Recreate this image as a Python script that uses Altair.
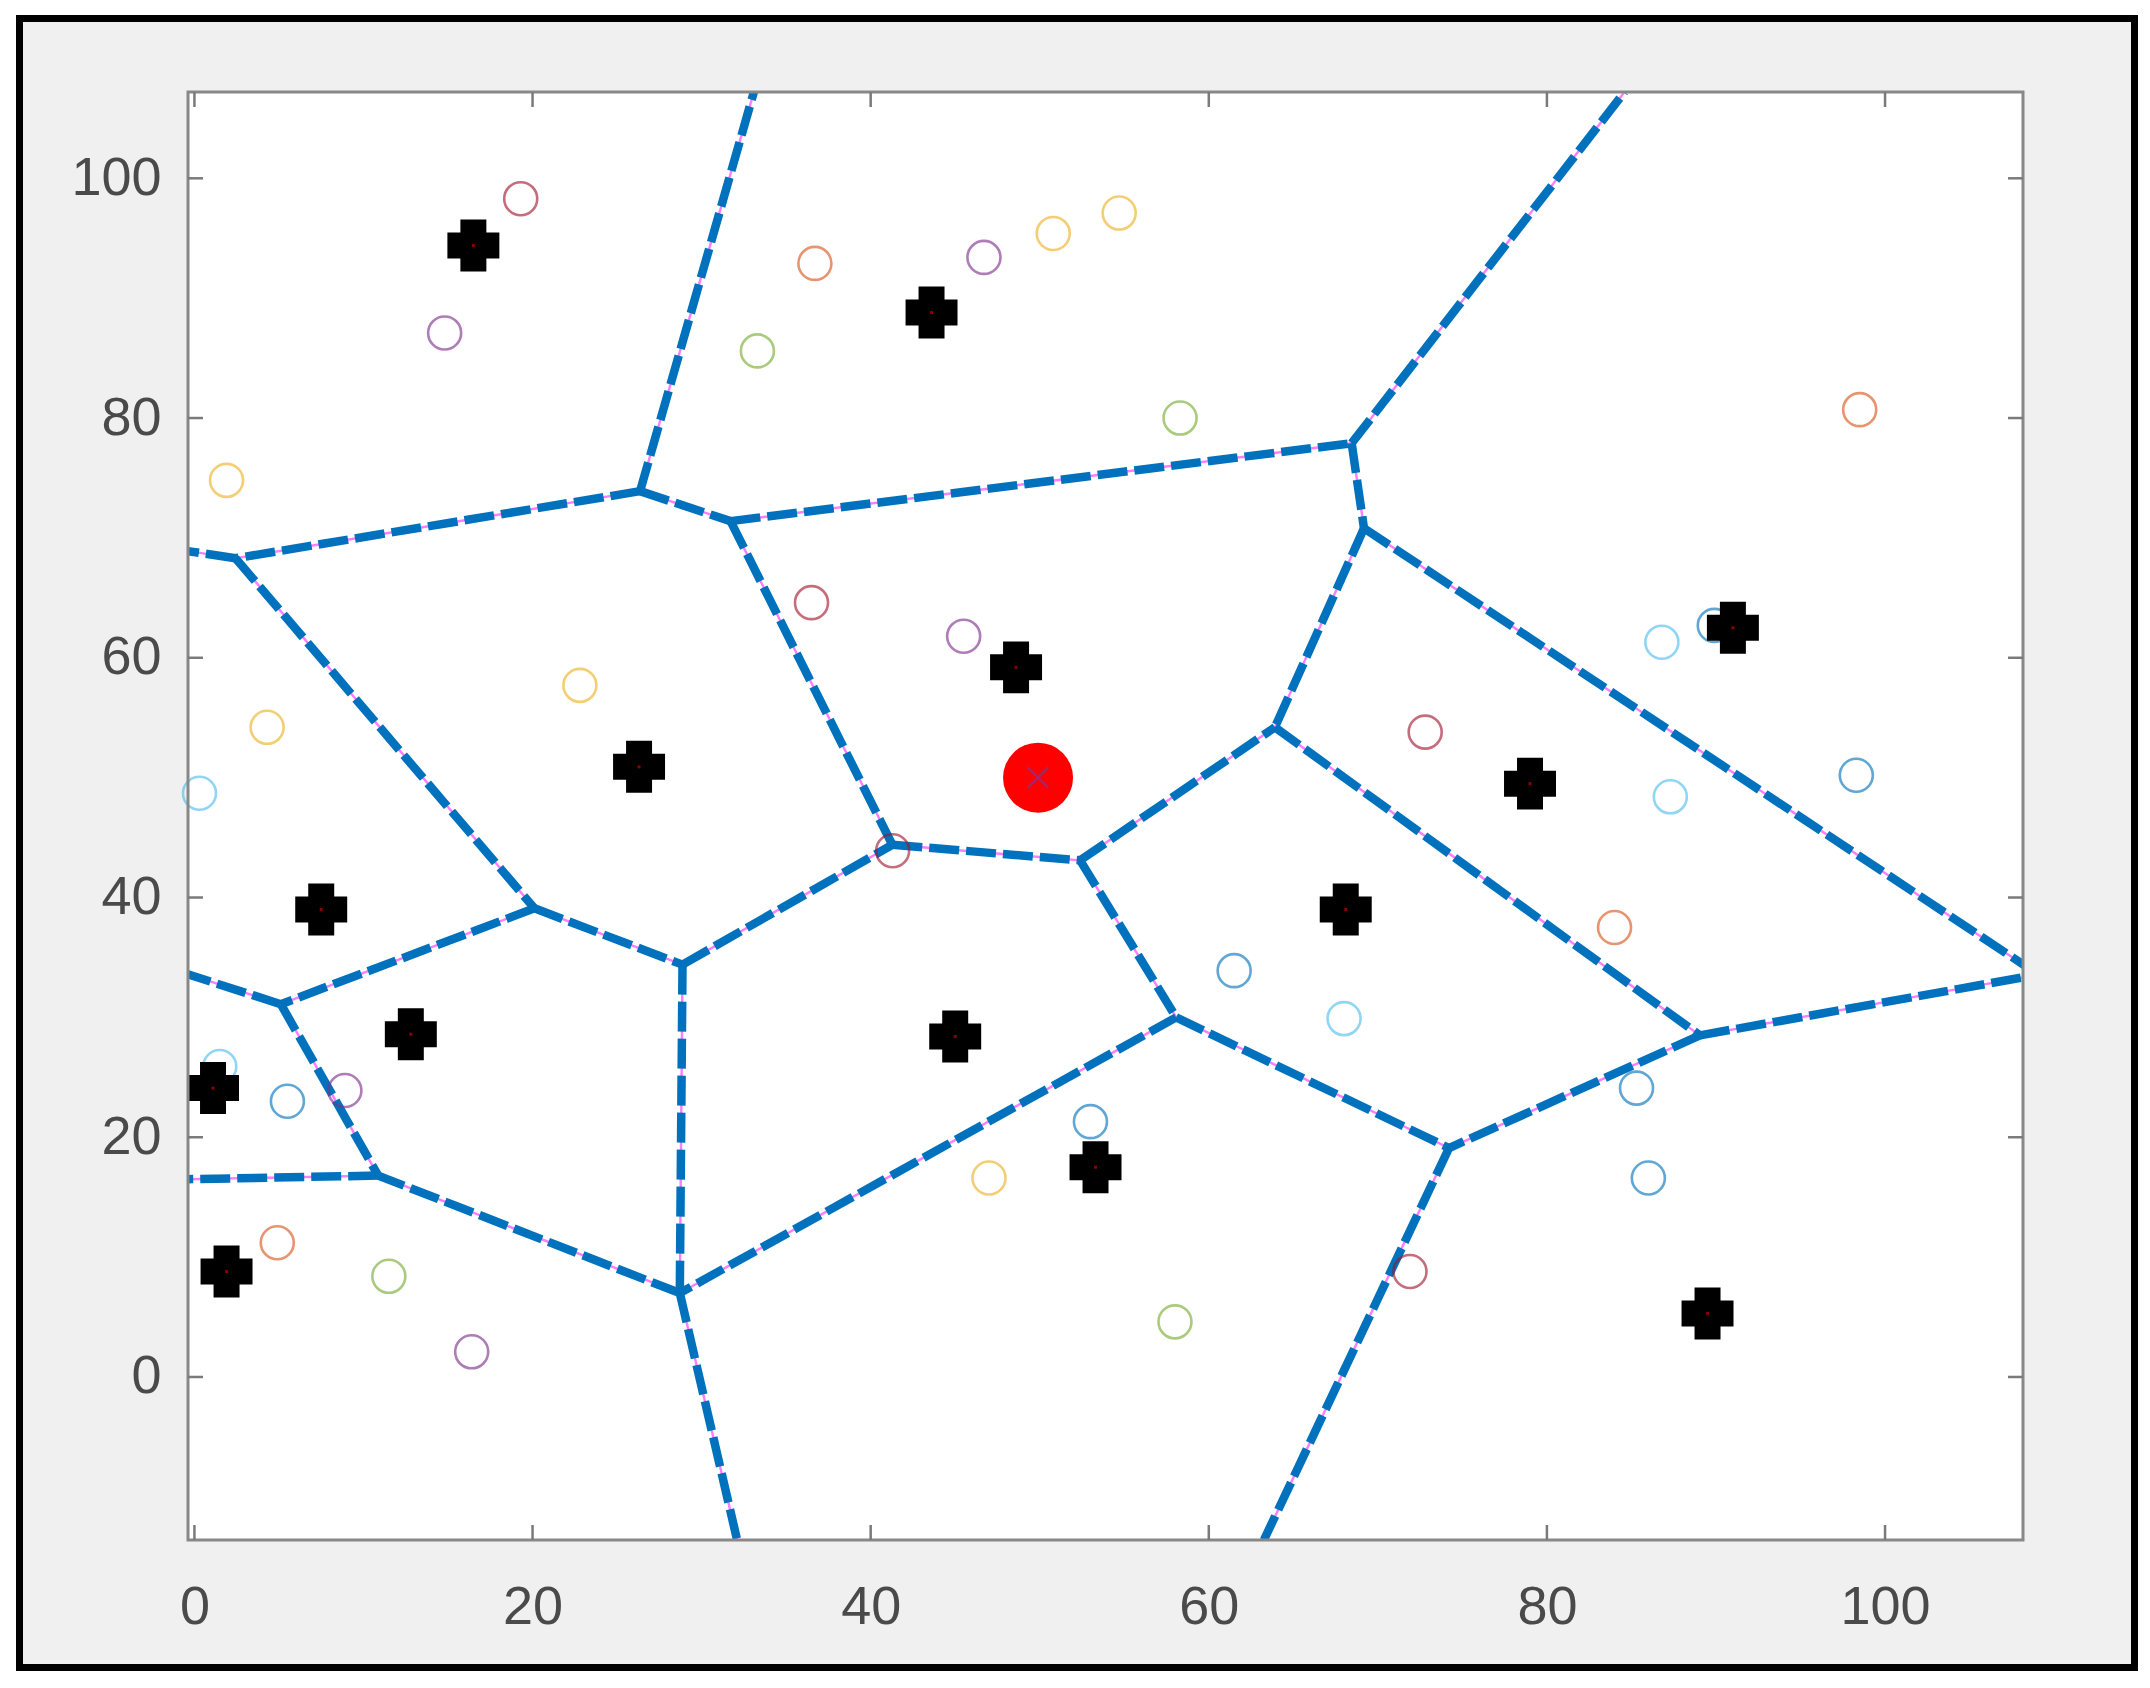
import altair as alt
import pandas as pd

# ---------------- data ----------------
X_DOMAIN = [-0.38, 108.16]
Y_DOMAIN = [-13.6, 107.2]
tick_vals = [0, 20, 40, 60, 80, 100]

# generator sites (black markers)
gen_x = [16.5, 43.6, 48.6, 26.3, 91.0, 79.0, 7.5, 68.1, 12.8, 45.0, 1.1, 53.3, 1.9, 89.5]
gen_y = [94.4, 88.8, 59.2, 50.9, 62.5, 49.5, 39.0, 39.0, 28.6, 28.4, 24.1, 17.5, 8.8, 5.3]

# query point (red)
query_x = [49.9]
query_y = [50.0]

# hollow coloured circles
circ_x = [19.3, 36.7, 46.7, 50.8, 54.7, 14.8, 33.3, 58.3, 98.5, 1.9,
          36.5, 45.5, 86.8, 89.9, 22.8, 4.3, 72.8, 0.3, 87.3, 98.3,
          41.3, 84.0, 61.5, 68.0, 1.5, 8.9, 5.5, 85.3, 53.0, 47.0,
          86.0, 4.9, 11.5, 71.9, 58.0, 16.4]
circ_y = [98.3, 92.9, 93.4, 95.4, 97.1, 87.1, 85.6, 80.0, 80.7, 74.8,
          64.6, 61.8, 61.3, 62.7, 57.7, 54.2, 53.8, 48.7, 48.4, 50.2,
          43.9, 37.5, 33.9, 29.9, 25.9, 23.9, 23.0, 24.1, 21.3, 16.6,
          16.6, 11.2, 8.4, 8.8, 4.6, 2.1]
circ_c = ["#A2142F", "#D95319", "#7E2F8E", "#EDB120", "#EDB120", "#7E2F8E", "#77AC30", "#77AC30", "#D95319", "#EDB120",
          "#A2142F", "#7E2F8E", "#4DBEEE", "#0072BD", "#EDB120", "#EDB120", "#A2142F", "#4DBEEE", "#4DBEEE", "#0072BD",
          "#A2142F", "#D95319", "#0072BD", "#4DBEEE", "#4DBEEE", "#7E2F8E", "#0072BD", "#0072BD", "#0072BD", "#EDB120",
          "#0072BD", "#D95319", "#77AC30", "#A2142F", "#77AC30", "#7E2F8E"]

# Voronoi edges (start / end)
seg_x1 = [26.36, 26.36, 26.36, 31.71, 31.71, 68.45, 68.45, 69.18, 69.18, 2.43,
          2.43, 20.11, 20.11, 28.87, 28.87, 41.28, 52.39, 52.39, 63.91, 58.07,
          58.07, 89.05, 89.05, 74.21, 28.71, 28.71, 5.11, 5.11, 10.87]
seg_y1 = [73.9, 73.9, 73.9, 71.4, 71.4, 77.9, 77.9, 70.8, 70.8, 68.3,
          68.3, 39.1, 39.1, 34.4, 34.4, 44.4, 43.1, 43.1, 54.2, 30.0,
          30.0, 28.5, 28.5, 19.1, 7.0, 7.0, 31.1, 31.1, 16.8]
seg_x2 = [33.09, 31.71, 2.43, 68.45, 41.28, 84.59, 69.18, 63.91, 108.4, -0.4,
          20.11, 5.11, 28.87, 41.28, 28.71, 52.39, 63.91, 58.07, 89.05, 28.71,
          74.21, 74.21, 108.4, 63.26, 10.87, 32.1, -0.4, 10.87, -0.4]
seg_y2 = [107.2, 71.4, 68.3, 77.9, 44.4, 107.2, 70.8, 54.2, 34.2, 68.9,
          39.1, 31.1, 34.4, 44.4, 7.0, 43.1, 54.2, 30.0, 28.5, 7.0,
          19.1, 19.1, 33.4, -13.6, 16.8, -13.6, 33.6, 16.8, 16.5]

# ---------------- layout (pixels) ----------------
W, H = 1835, 1448
PAD = {"left": 180, "top": 84, "right": 115, "bottom": 136}

xs = alt.Scale(domain=X_DOMAIN, nice=False, zero=False)
ys = alt.Scale(domain=Y_DOMAIN, nice=False, zero=False)

one = pd.DataFrame({"k": [0]})
gen_df = pd.DataFrame({"x": gen_x, "y": gen_y})
q_df = pd.DataFrame({"x": query_x, "y": query_y})
c_df = pd.DataFrame({"x": circ_x, "y": circ_y, "c": circ_c})
s_df = pd.DataFrame({"x1": seg_x1, "y1": seg_y1, "x2": seg_x2, "y2": seg_y2})
t_df = pd.DataFrame({"v": tick_vals})

FONT = "Liberation Sans"
x_axis = alt.Axis(values=tick_vals, ticks=False, domain=False, grid=False, labelFontSize=54,
                  labelFont=FONT, labelColor="#4a4a4a", labelPadding=40, labelFlush=False,
                  labelOverlap=False, zindex=1, title=None)
y_axis = alt.Axis(values=tick_vals, ticks=False, domain=False, grid=False, labelFontSize=54,
                  labelFont=FONT, labelColor="#4a4a4a", labelPadding=27, labelFlush=False,
                  labelOverlap=False, zindex=1, title=None)

# figure frame (gray with black border)
frame = alt.Chart(one).mark_rect(fill="#f0f0f0", stroke="black", strokeWidth=7).encode(
    x=alt.value(19.5 - 188), x2=alt.value(2134.5 - 188),
    y=alt.value(18.5 - 92), y2=alt.value(1667.5 - 92))

plot_bg = alt.Chart(one).mark_rect(fill="white").encode(
    x=alt.value(0), x2=alt.value(W), y=alt.value(0), y2=alt.value(H))

pink = alt.Chart(s_df).mark_rule(color="#ff7dff", strokeWidth=2.4, clip=True).encode(
    x=alt.X("x1:Q", scale=xs, axis=x_axis), y=alt.Y("y1:Q", scale=ys, axis=y_axis),
    x2="x2:Q", y2="y2:Q")

blue = alt.Chart(s_df).mark_rule(color="#0072BD", strokeWidth=8.5, strokeDash=[30, 7], clip=True).encode(
    x=alt.X("x1:Q", scale=xs), y=alt.Y("y1:Q", scale=ys), x2="x2:Q", y2="y2:Q")

circles = alt.Chart(c_df).mark_point(shape="circle", filled=False, size=1089, strokeWidth=2.6,
                                     opacity=0.62).encode(
    x=alt.X("x:Q", scale=xs), y=alt.Y("y:Q", scale=ys), color=alt.Color("c:N", scale=None))

PLUS = "M-0.5,-1H0.5V-0.5H1V0.5H0.5V1H-0.5V0.5H-1V-0.5H-0.5Z"
gens = alt.Chart(gen_df).mark_point(shape=PLUS, filled=True, color="black", size=2700, opacity=1).encode(
    x=alt.X("x:Q", scale=xs), y=alt.Y("y:Q", scale=ys))
gen_dot = alt.Chart(gen_df).mark_point(shape="square", filled=True, color="#8b0000", size=9, opacity=1).encode(
    x=alt.X("x:Q", scale=xs), y=alt.Y("y:Q", scale=ys))

red = alt.Chart(q_df).mark_point(shape="circle", filled=True, color="#ff0000", size=4900, opacity=1).encode(
    x=alt.X("x:Q", scale=xs), y=alt.Y("y:Q", scale=ys))
red_x = alt.Chart(q_df).mark_point(shape="M-1,-1L1,1M-1,1L1,-1", filled=False, color="#9a2a78",
                                   size=420, strokeWidth=2.2, opacity=0.9).encode(
    x=alt.X("x:Q", scale=xs), y=alt.Y("y:Q", scale=ys))

box = alt.Chart(one).mark_rect(fill="transparent", stroke="#888888", strokeWidth=3).encode(
    x=alt.value(0), x2=alt.value(W), y=alt.value(0), y2=alt.value(H))

TL = 15
tick_col = "#7a7a7a"
tb = alt.Chart(t_df).mark_rule(color=tick_col, strokeWidth=2.5).encode(
    x=alt.X("v:Q", scale=xs), y=alt.value(H), y2=alt.value(H - TL))
tt = alt.Chart(t_df).mark_rule(color=tick_col, strokeWidth=2.5).encode(
    x=alt.X("v:Q", scale=xs), y=alt.value(0), y2=alt.value(TL))
tl = alt.Chart(t_df).mark_rule(color=tick_col, strokeWidth=2.5).encode(
    y=alt.Y("v:Q", scale=ys), x=alt.value(0), x2=alt.value(TL))
tr = alt.Chart(t_df).mark_rule(color=tick_col, strokeWidth=2.5).encode(
    y=alt.Y("v:Q", scale=ys), x=alt.value(W), x2=alt.value(W - TL))

chart = alt.layer(frame, plot_bg, pink, blue, circles, gens, gen_dot, red, red_x,
                  box, tb, tt, tl, tr).properties(
    width=W, height=H, padding=PAD, autosize="none", background="white"
).configure_view(stroke="transparent")

chart.save("out.html", embed_options={"renderer": "svg", "actions": False})
